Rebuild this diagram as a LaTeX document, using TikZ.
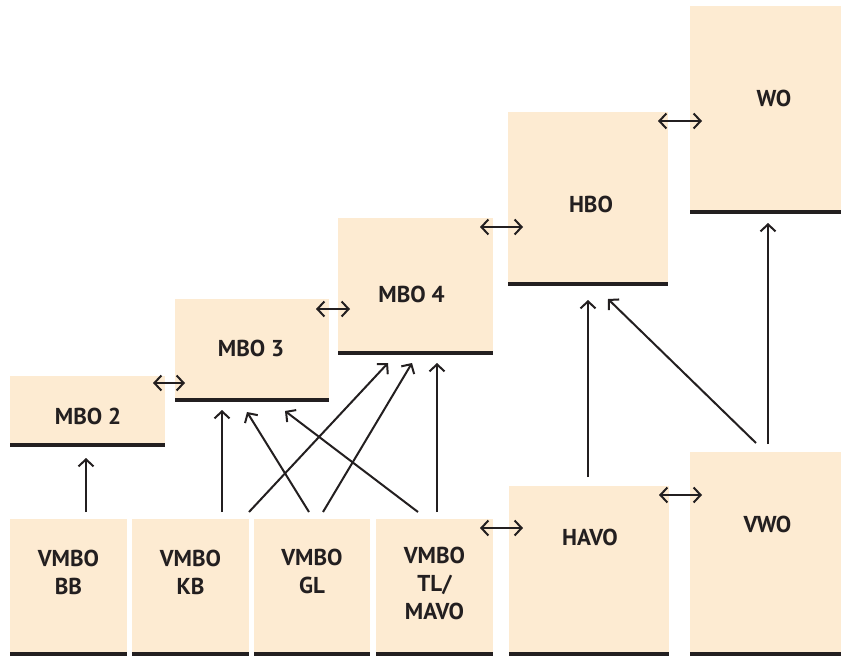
\documentclass[tikz,border=0pt]{standalone}
\usepackage{fontspec}
\setmainfont{PT Sans}
\usetikzlibrary{arrows.meta,calc}
\definecolor{boxfill}{RGB}{253,235,210}
\definecolor{ink}{RGB}{35,31,32}
\begin{document}
\begin{tikzpicture}[x=1pt,y=-1pt,
  box/.style={fill=boxfill, draw=none, inner sep=0pt, outer sep=0pt, anchor=north west},
  bar/.style={draw=ink, line width=4.5pt, line cap=butt},
  lbl/.style={text=ink, inner sep=0pt, font=\fontsize{23}{28}\selectfont\bfseries},
  arr/.style={draw=ink, line width=2pt, -{Straight Barb[length=7pt,width=15pt,line width=2pt]}},
  darr/.style={draw=ink, line width=2pt, {Straight Barb[length=7pt,width=15pt,line width=2pt]}-{Straight Barb[length=7pt,width=15pt,line width=2pt]}}
]
\useasboundingbox (0,0) rectangle (841,656);
% boxes
\node[box, minimum width=155pt, minimum height=69pt]  (mbo2) at (10,376) {};
\node[box, minimum width=154pt, minimum height=101pt] (mbo3) at (175,299) {};
\node[box, minimum width=155pt, minimum height=135pt] (mbo4) at (338,218) {};
\node[box, minimum width=160pt, minimum height=172pt] (hbo)  at (508,112) {};
\node[box, minimum width=151pt, minimum height=206pt] (wo)   at (690,6) {};
\node[box, minimum width=117pt, minimum height=135.5pt] (bb) at (10,519) {};
\node[box, minimum width=117pt, minimum height=135.5pt] (kb) at (132,519) {};
\node[box, minimum width=116pt, minimum height=135.5pt] (gl) at (254,519) {};
\node[box, minimum width=117pt, minimum height=135.5pt] (tl) at (376,519) {};
\node[box, minimum width=160pt, minimum height=168.5pt] (havo) at (509,486) {};
\node[box, minimum width=151pt, minimum height=202.5pt] (vwo)  at (690,452) {};
% bottom bars
\foreach \n in {mbo2,mbo3,mbo4,hbo,wo,bb,kb,gl,tl,havo,vwo}
  \draw[bar] (\n.south west) -- (\n.south east);
% labels
\node[lbl, anchor=base] (tmbo2) at (88,424) {MBO 2};
\node[lbl, anchor=base] (tmbo3) at (251,356) {MBO 3};
\node[lbl, anchor=base] (tmbo4) at (411.5,302) {MBO 4};
\node[lbl, anchor=base] (thbo)  at (591,212) {HBO};
\node[lbl, anchor=base] (two)   at (774,106) {WO};
\node[lbl, anchor=base] (thavo) at (590,545) {HAVO};
\node[lbl, anchor=base] (tvwo)  at (767.5,532) {VWO};
\node[lbl, anchor=base] (tbb) at (68.5,566) {\begin{tabular}[t]{@{}c@{}}VMBO\\BB\end{tabular}};
\node[lbl, anchor=base] (tkb) at (190.5,566) {\begin{tabular}[t]{@{}c@{}}VMBO\\KB\end{tabular}};
\node[lbl, anchor=base] (tgl) at (312,565) {\begin{tabular}[t]{@{}c@{}}VMBO\\GL\end{tabular}};
\node[lbl, anchor=base] (ttl) at (434.5,563) {\begin{tabular}[t]{@{}c@{}}VMBO\\TL/\\MAVO\end{tabular}};
% upward arrows
\draw[arr] ($(bb.north west)+(76,-7)$) -- ($(mbo2.south west)+(76,13)$);
\draw[arr] ($(kb.north west)+(90,-7)$) -- ($(mbo3.south west)+(47,10)$);
\draw[arr] ($(gl.north west)+(55,-7)$) -- ($(mbo3.south west)+(72,12)$);
\draw[arr] ($(tl.north west)+(42,-7)$) -- ($(mbo3.south west)+(110,11)$);
\draw[arr] ($(kb.north west)+(117,-7)$) -- ($(mbo4.south west)+(50,10)$);
\draw[arr] ($(gl.north west)+(69,-7)$) -- ($(mbo4.south west)+(74,10)$);
\draw[arr] ($(tl.north west)+(61,-7)$) -- ($(mbo4.south west)+(99,10)$);
\draw[arr] ($(havo.north west)+(79,-9)$) -- ($(hbo.south west)+(80,16)$);
\draw[arr] ($(vwo.north west)+(66,-9)$) -- ($(hbo.south west)+(100,15)$);
\draw[arr] ($(vwo.north west)+(78,-8)$) -- ($(wo.south west)+(78,11)$);
% double arrows
\draw[darr] ($(mbo2.north east)+(-12,7)$) -- ($(mbo3.north west)+(10,84)$);
\draw[darr] ($(mbo3.north east)+(-13,10)$) -- ($(mbo4.north west)+(12,91)$);
\draw[darr] ($(mbo4.north east)+(-13,9)$) -- ($(hbo.north west)+(15,115)$);
\draw[darr] ($(hbo.north east)+(-10,9)$) -- ($(wo.north west)+(12,115)$);
\draw[darr] ($(tl.north east)+(-13,9)$) -- ($(havo.north west)+(14,42)$);
\draw[darr] ($(havo.north east)+(-10,9)$) -- ($(vwo.north west)+(12,43)$);
\end{tikzpicture}
\end{document}
